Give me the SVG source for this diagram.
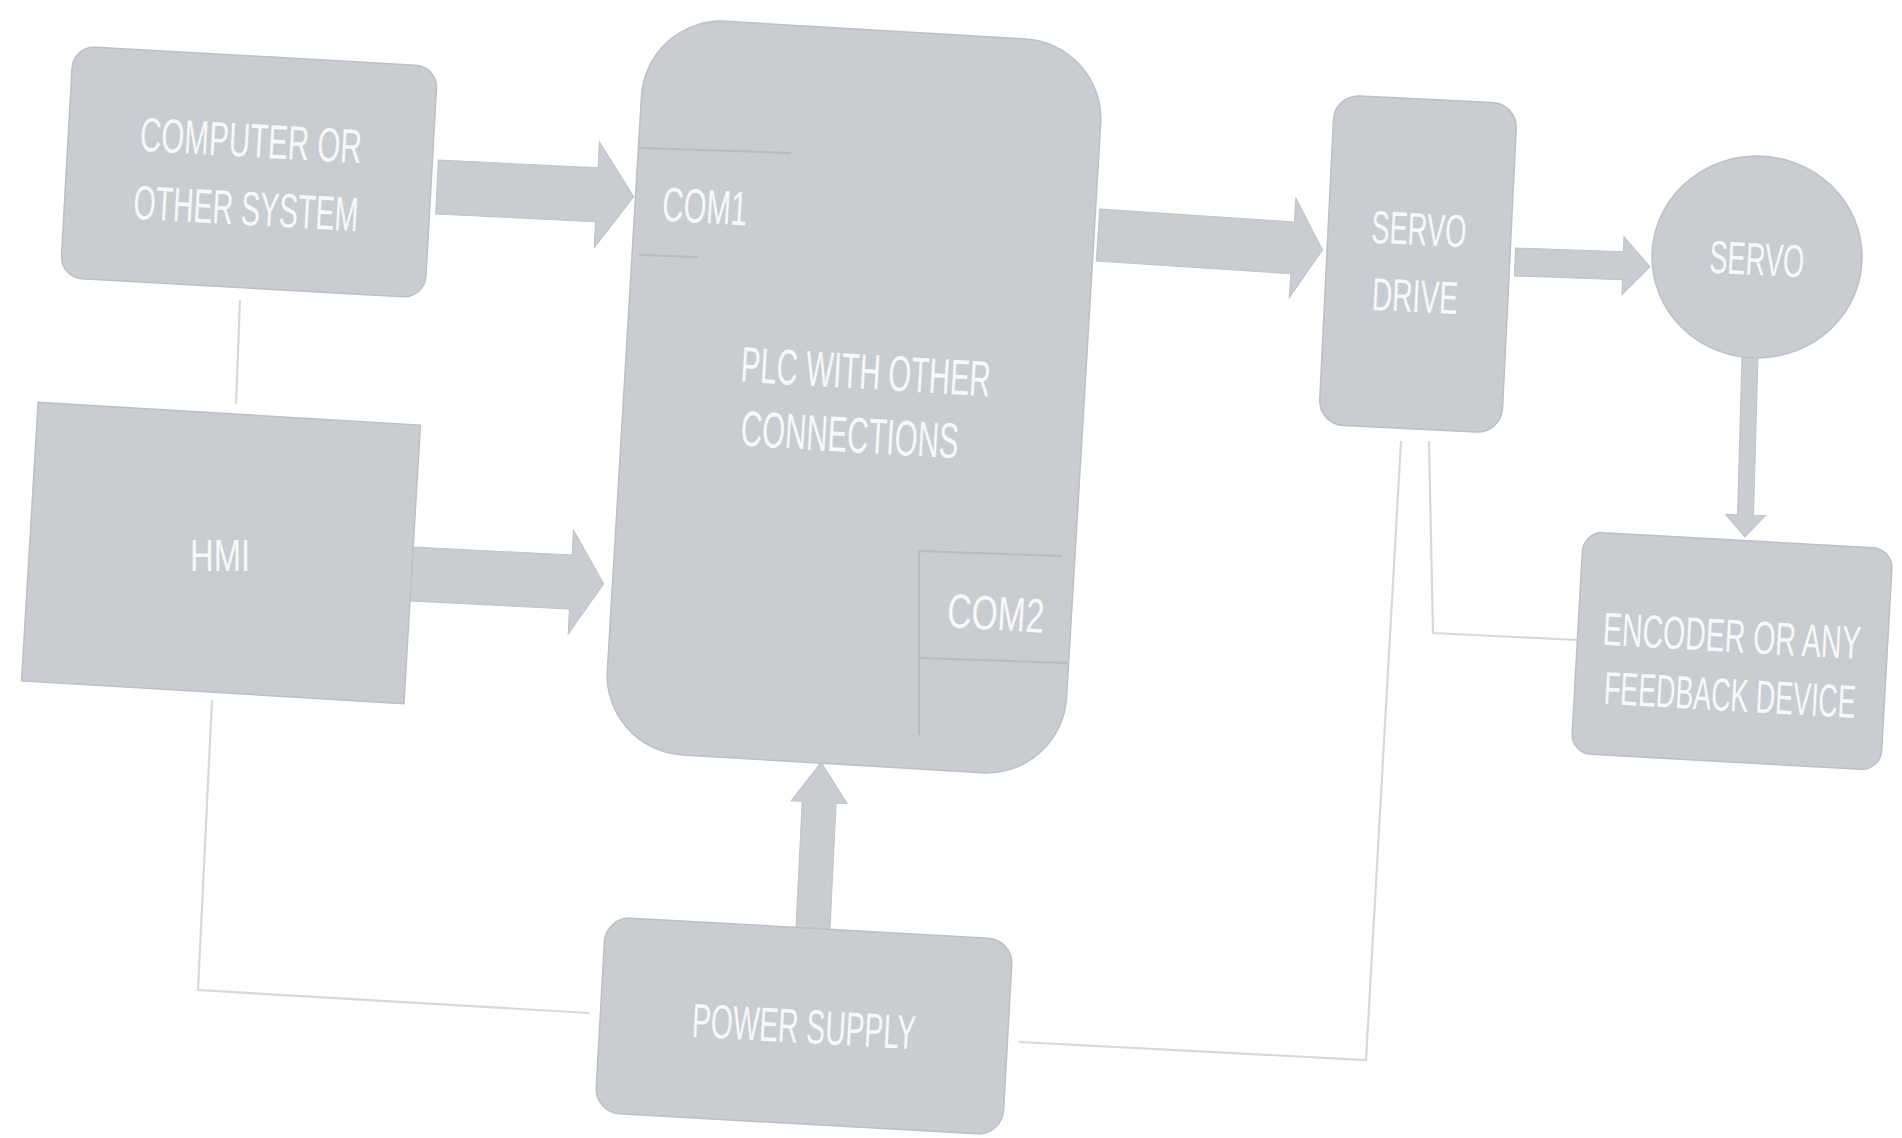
<svg xmlns="http://www.w3.org/2000/svg" width="1902" height="1138" viewBox="0 0 1902 1138">
<style>
.box{fill:#c9ccd0;stroke:#bcc0c5;stroke-width:1.5}
.arr{fill:#c9ccd0;stroke:#bfc3c8;stroke-width:1}
.wire{fill:none;stroke:#d6d8db;stroke-width:2.2}
.sep{fill:none;stroke:#b8bbc0;stroke-width:2}
.t{font-family:"Liberation Sans",Arial,sans-serif;fill:#f7f8fa;text-anchor:middle}
</style>
<rect width="1902" height="1138" fill="#ffffff"/>
<g id="connectors">
<polyline class="wire" points="240,300 236,404"/>
<polyline class="wire" points="212,700 198,990 589,1013"/>
<polyline class="wire" points="1019,1042 1366,1060 1401,441"/>
<polyline class="wire" points="1429,441 1433,633 1578,640"/>
<path class="arr" transform="translate(437,187) rotate(2.8)" d="M0,-27 L160,-27 L160,-53 L197,0 L160,53 L160,27 L0,27 Z"/>
<path class="arr" transform="translate(412,574) rotate(2.9)" d="M0,-27 L159,-27 L159,-52 L192,0 L159,52 L159,27 L0,27 Z"/>
<path class="arr" transform="translate(1098,235) rotate(3.8)" d="M0,-26 L195,-26 L195,-50 L225,0 L195,50 L195,26 L0,26 Z"/>
<path class="arr" transform="translate(1515,262) rotate(2)" d="M0,-14 L108,-14 L108,-29 L135,0 L108,29 L108,14 L0,14 Z"/>
<path class="arr" transform="translate(1750,355) rotate(91.6)" d="M0,-8 L160,-8 L160,-20 L182,0 L160,20 L160,8 L0,8 Z"/>
<path class="arr" transform="translate(813,928) rotate(-87.2)" d="M0,-17 L126,-17 L126,-28 L166,0 L126,28 L126,17 L0,17 Z"/>
</g>
<g id="computer">
<rect class="box" x="66.5" y="56" width="365" height="232" rx="22" transform="rotate(3.2 249 172)"/>
<text class="t" font-size="48" x="251" y="157" textLength="222" lengthAdjust="spacingAndGlyphs" transform="rotate(3.2 251 140)">COMPUTER OR</text>
<text class="t" font-size="48" x="246" y="225" textLength="225" lengthAdjust="spacingAndGlyphs" transform="rotate(3.2 246 208)">OTHER SYSTEM</text>
</g>
<g id="hmi">
<rect class="box" x="29.5" y="413.5" width="383" height="279" transform="rotate(3.4 221 553)"/>
<text class="t" font-size="44" x="220" y="571" textLength="60" lengthAdjust="spacingAndGlyphs">HMI</text>
</g>
<g id="plc">
<rect class="box" x="624" y="29.5" width="460" height="735" rx="80" transform="rotate(3.4 854 397)"/>
<polyline class="sep" points="639,148 791,153"/>
<polyline class="sep" points="639,255 698,257"/>
<polyline class="sep" points="919,735 919,551 1062,556"/>
<polyline class="sep" points="919,658 1067,663"/>
<text class="t" font-size="48" x="705" y="223" textLength="85" lengthAdjust="spacingAndGlyphs" transform="rotate(3.4 705 205)">COM1</text>
<text class="t" font-size="50" x="866" y="389" textLength="250" lengthAdjust="spacingAndGlyphs" transform="rotate(3.4 866 370)">PLC WITH OTHER</text>
<text class="t" font-size="50" x="850" y="452" textLength="218" lengthAdjust="spacingAndGlyphs" transform="rotate(3.4 850 432)">CONNECTIONS</text>
<text class="t" font-size="48" x="996" y="630" textLength="97" lengthAdjust="spacingAndGlyphs" transform="rotate(3.4 996 611)">COM2</text>
</g>
<g id="servo-drive">
<rect class="box" x="1326.5" y="99" width="183" height="330" rx="25" transform="rotate(2.8 1418 264)"/>
<text class="t" font-size="46" x="1419" y="245" textLength="95" lengthAdjust="spacingAndGlyphs" transform="rotate(2.8 1419 229)">SERVO</text>
<text class="t" font-size="46" x="1415" y="312" textLength="86" lengthAdjust="spacingAndGlyphs" transform="rotate(2.8 1415 296)">DRIVE</text>
</g>
<g id="servo">
<ellipse class="box" cx="1757" cy="257" rx="105" ry="101"/>
<text class="t" font-size="46" x="1757" y="275" textLength="95" lengthAdjust="spacingAndGlyphs" transform="rotate(3 1757 258)">SERVO</text>
</g>
<g id="encoder">
<rect class="box" x="1577" y="540" width="310" height="222" rx="20" transform="rotate(3.2 1732 651)"/>
<text class="t" font-size="31" x="0" y="0" textLength="258" lengthAdjust="spacingAndGlyphs" transform="rotate(3.2 1732 635) translate(1732 652) scale(1 1.5)">ENCODER OR ANY</text>
<text class="t" font-size="31" x="0" y="0" textLength="252" lengthAdjust="spacingAndGlyphs" transform="rotate(3.2 1730 693) translate(1730 711) scale(1 1.5)">FEEDBACK DEVICE</text>
</g>
<g id="power-supply">
<rect class="box" x="600" y="928" width="408" height="196" rx="25" transform="rotate(3.2 804 1026)"/>
<text class="t" font-size="48" x="804" y="1043" textLength="224" lengthAdjust="spacingAndGlyphs" transform="rotate(3.2 804 1025)">POWER SUPPLY</text>
</g>
</svg>
